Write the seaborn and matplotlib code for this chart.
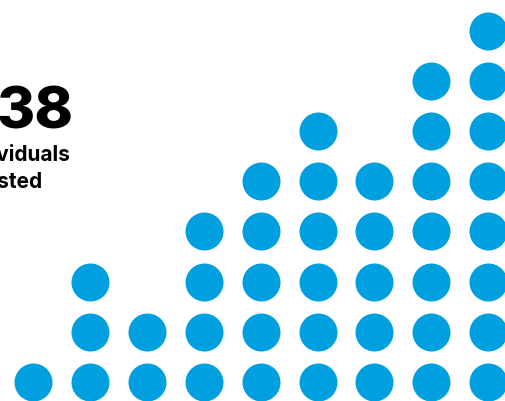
import matplotlib
matplotlib.use("Agg")
import matplotlib.pyplot as plt
import seaborn as sns
import pandas as pd

# Data: number of dots per column (left to right)
columns = [0, 1, 2, 3, 4, 5, 6, 7, 8]
counts = [1, 3, 2, 4, 5, 6, 5, 7, 8]
headline = "38"
label_line1 = "individuals"
label_line2 = "tested"

rows = []
for c, n in zip(columns, counts):
    for r in range(n):
        rows.append({"col": c, "row": r})
df = pd.DataFrame(rows)

sns.set_theme(style="white")
plt.rcParams['font.family'] = ['Inter', 'DejaVu Sans']

W, H = 506, 402
fig = plt.figure(figsize=(W / 100, H / 100), dpi=100)
ax = fig.add_axes([0, 0, 1, 1])

dot_color = "#009FE0"
diam_px = 38
s = (diam_px * 72 / 100) ** 2
sns.scatterplot(data=df, x="col", y="row", ax=ax, s=s, color=dot_color,
                linewidth=0, legend=False, clip_on=False)

# map axes so that column centres / row centres land as in reference
x0_px, dx_px = 33, 56.9
y0_px, dy_px = 383, 50.2
ax.set_xlim(-x0_px / dx_px, (W - x0_px) / dx_px)
ax.set_ylim((y0_px - H) / dy_px, y0_px / dy_px)
ax.set_axis_off()

fig.text(74 / W, 1 - 129 / H, headline, ha="right", va="baseline",
         fontsize=42, fontweight="heavy", color="black")
fig.text(71 / W, 1 - 161 / H, label_line1, ha="right", va="baseline",
         fontsize=15, fontweight="bold", color="black")
fig.text(43 / W, 1 - 188 / H, label_line2, ha="right", va="baseline",
         fontsize=15, fontweight="bold", color="black")

fig.savefig("out.png", dpi=100, facecolor="white")
